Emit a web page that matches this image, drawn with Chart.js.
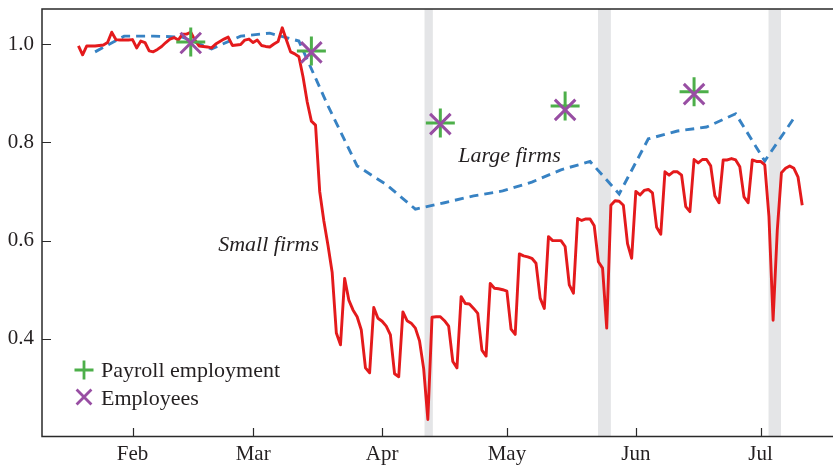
<!DOCTYPE html>
<html>
<head>
<meta charset="utf-8">
<script src="https://cdn.jsdelivr.net/npm/chart.js@4"></script>
<style>
  html, body { margin: 0; padding: 0; background: #ffffff; }
  canvas { display: block; }
</style>
</head>
<body>
<canvas id="chart" width="833" height="465"></canvas>
<script>
// Day numbers count from 1 Jan 2020 (day 0).
const monthTickDays = [31, 60, 91, 121, 152, 182];
const monthTickLabels = ['Feb', 'Mar', 'Apr', 'May', 'Jun', 'Jul'];
const valueTicks = [0.4, 0.6, 0.8, 1.0];

// Small firms: daily index, first value on day 18 (19 Jan).
const smallFirmsFirstDay = 18;
const smallFirms = [
  0.996, 0.978, 0.996, 0.996, 0.996, 0.997, 0.998,
  1.003, 1.024, 1.009, 1.008, 1.008, 1.008, 1.009,
  0.992, 1.006, 1.003, 0.986, 0.984, 0.989, 0.995,
  1.003, 1.010, 1.013, 1.008, 1.020, 1.020, 1.024,
  1.008, 0.996, 0.995, 0.994, 0.992, 1.000, 1.005,
  1.010, 1.014, 0.997, 0.998, 0.999, 1.008, 1.010,
  1.003, 1.008, 0.997, 0.995, 0.994, 1.000, 1.005,
  1.033, 1.008, 0.984, 0.980, 0.974, 0.933, 0.882,
  0.843, 0.835, 0.700, 0.640, 0.590, 0.535, 0.412,
  0.388, 0.523, 0.479, 0.459, 0.445, 0.418, 0.341,
  0.331, 0.464, 0.442, 0.436, 0.426, 0.408, 0.329,
  0.323, 0.455, 0.437, 0.432, 0.422, 0.396, 0.339,
  0.236, 0.444, 0.445, 0.445, 0.437, 0.426, 0.354,
  0.341, 0.486, 0.472, 0.471, 0.462, 0.452, 0.377,
  0.365, 0.513, 0.503, 0.502, 0.500, 0.497, 0.420,
  0.409, 0.573, 0.569, 0.567, 0.564, 0.554, 0.483,
  0.462, 0.608, 0.600, 0.600, 0.600, 0.588, 0.510,
  0.493, 0.645, 0.641, 0.644, 0.644, 0.630, 0.557,
  0.544, 0.422, 0.672, 0.681, 0.680, 0.672, 0.594,
  0.564, 0.700, 0.693, 0.702, 0.704, 0.697, 0.627,
  0.613, 0.740, 0.733, 0.740, 0.740, 0.733, 0.669,
  0.659, 0.765, 0.758, 0.765, 0.765, 0.752, 0.691,
  0.677, 0.764, 0.764, 0.767, 0.764, 0.750, 0.689,
  0.677, 0.764, 0.761, 0.761, 0.754, 0.649, 0.438,
  0.620, 0.738, 0.747, 0.752, 0.747, 0.729, 0.672
];

// Large firms: weekly readings.
const largeFirmsDays = [22, 29, 36, 43, 50, 57, 64, 71, 78, 85, 92, 99, 106,
  113, 120, 127, 134, 141, 148, 155, 162, 169, 176, 183, 190];
const largeFirms = [0.984, 1.016, 1.016, 1.014, 0.990, 1.016, 1.022, 1.006,
  0.874, 0.752, 0.714, 0.664, 0.677, 0.691, 0.701, 0.719, 0.744, 0.761,
  0.695, 0.807, 0.823, 0.831, 0.858, 0.762, 0.849];

// Monthly survey benchmarks (15th of each month).
const surveyDays = [45, 74, 105, 135, 166];
const payrollEmployment = [1.004, 0.986, 0.839, 0.874, 0.903];
const employees = [1.002, 0.983, 0.837, 0.866, 0.898];

// Holiday periods shaded in grey.
const holidayStarts = [101.2, 142.9, 183.9];
const holidayEnds = [103.2, 146.0, 186.9];

const RED = '#e41a1c';
const BLUE = '#3782c3';
const GREEN = '#4daf4a';
const PURPLE = '#984ea3';
const INK = '#231f20';
const SERIF = '"Liberation Serif", "Times New Roman", serif';

const smallPoints = smallFirms.map((v, i) => ({ x: smallFirmsFirstDay + i, y: v }));
const largePoints = largeFirmsDays.map((d, i) => ({ x: d, y: largeFirms[i] }));
const payrollPoints = surveyDays.map((d, i) => ({ x: d, y: payrollEmployment[i] }));
const employeePoints = surveyDays.map((d, i) => ({ x: d, y: employees[i] }));

function strokeMarker(ctx, style, x, y, r, color, width) {
  ctx.save();
  ctx.strokeStyle = color;
  ctx.lineWidth = width;
  ctx.lineCap = 'butt';
  ctx.beginPath();
  if (style === 'cross') {
    ctx.moveTo(x - r, y); ctx.lineTo(x + r, y);
    ctx.moveTo(x, y - r); ctx.lineTo(x, y + r);
  } else {
    const dx = r * Math.SQRT1_2;
    ctx.moveTo(x - dx, y - dx); ctx.lineTo(x + dx, y + dx);
    ctx.moveTo(x - dx, y + dx); ctx.lineTo(x + dx, y - dx);
  }
  ctx.stroke();
  ctx.restore();
}

// Axis ends carry no tick labels, so no extra room is reserved for them.
function noEdgePadding(scale) {
  scale.paddingLeft = 0;
  scale.paddingRight = 0;
  scale.paddingTop = 0;
  scale.paddingBottom = 0;
}

const holidayBands = {
  id: 'holidayBands',
  beforeDatasetsDraw(chart) {
    const { ctx, chartArea: a, scales: { x } } = chart;
    ctx.save();
    ctx.fillStyle = '#e4e5e7';
    holidayStarts.forEach((s, i) => {
      const x0 = x.getPixelForValue(s);
      const x1 = x.getPixelForValue(holidayEnds[i]);
      ctx.fillRect(x0, a.top, x1 - x0, a.bottom - a.top);
    });
    ctx.restore();
  }
};

const frameAndTicks = {
  id: 'frameAndTicks',
  afterDatasetsDraw(chart) {
    const { ctx, chartArea: a, scales: { x, y } } = chart;
    ctx.save();
    ctx.strokeStyle = '#2a2a2a';
    ctx.lineWidth = 1.5;
    ctx.beginPath();
    ctx.moveTo(a.right + 2, a.top); ctx.lineTo(a.left, a.top);
    ctx.lineTo(a.left, a.bottom); ctx.lineTo(a.right + 2, a.bottom);
    ctx.stroke();
    ctx.lineWidth = 1.2;
    ctx.beginPath();
    valueTicks.forEach(v => {
      const py = Math.round(y.getPixelForValue(v)) + 0.5;
      ctx.moveTo(a.left, py); ctx.lineTo(a.left + 9, py);
    });
    monthTickDays.forEach(d => {
      const px = Math.round(x.getPixelForValue(d)) + 0.5;
      ctx.moveTo(px, a.bottom); ctx.lineTo(px, a.bottom - 8.5);
    });
    ctx.stroke();
    ctx.restore();
  }
};

const labelsAndKey = {
  id: 'labelsAndKey',
  afterDraw(chart) {
    const { ctx, chartArea: a, scales: { x, y } } = chart;
    ctx.save();
    ctx.fillStyle = INK;
    ctx.textBaseline = 'alphabetic';
    ctx.textAlign = 'left';
    ctx.font = 'italic 22px ' + SERIF;
    ctx.fillText('Small firms', x.getPixelForValue(51.6), y.getPixelForValue(0.579));
    ctx.fillText('Large firms', x.getPixelForValue(109.3), y.getPixelForValue(0.76));

    ctx.font = '22px ' + SERIF;
    strokeMarker(ctx, 'cross', a.left + 42, a.bottom - 66.5, 9.5, GREEN, 2.8);
    ctx.fillText('Payroll employment', a.left + 59, a.bottom - 59.2);
    strokeMarker(ctx, 'crossRot', a.left + 42, a.bottom - 39.5, 10.5, PURPLE, 2.8);
    ctx.fillText('Employees', a.left + 59, a.bottom - 31.5);
    ctx.restore();
  }
};

new Chart(document.getElementById('chart'), {
  type: 'line',
  data: {
    datasets: [
      {
        label: 'Employees',
        data: employeePoints,
        showLine: false,
        pointStyle: 'crossRot',
        pointRadius: 14.5,
        pointBorderWidth: 3,
        borderColor: PURPLE,
        backgroundColor: PURPLE
      },
      {
        label: 'Payroll employment',
        data: payrollPoints,
        showLine: false,
        pointStyle: 'cross',
        pointRadius: 14.5,
        pointBorderWidth: 3,
        borderColor: GREEN,
        backgroundColor: GREEN
      },
      {
        label: 'Small firms',
        data: smallPoints,
        borderColor: RED,
        borderWidth: 2.9,
        pointRadius: 0,
        tension: 0,
        borderJoinStyle: 'round',
        fill: false
      },
      {
        label: 'Large firms',
        data: largePoints,
        borderColor: BLUE,
        borderWidth: 2.9,
        borderDash: [9, 6],
        pointRadius: 0,
        tension: 0,
        fill: false
      }
    ]
  },
  options: {
    responsive: false,
    animation: false,
    devicePixelRatio: 1,
    layout: { autoPadding: false, padding: { top: 9, right: 0, bottom: 0, left: 0 } },
    plugins: {
      legend: { display: false },
      tooltip: { enabled: false },
      title: { display: false }
    },
    scales: {
      x: {
        type: 'linear',
        min: 9.24,
        max: 199.4,
        grid: { display: false, drawTicks: false },
        border: { display: false },
        afterFit(scale) { scale.height = 28.5; noEdgePadding(scale); },
        afterBuildTicks(scale) { scale.ticks = monthTickDays.map(v => ({ value: v })); },
        ticks: {
          padding: 5,
          autoSkip: false,
          maxRotation: 0,
          color: INK,
          font: { family: SERIF, size: 21 },
          callback(value) {
            const i = monthTickDays.indexOf(value);
            return i >= 0 ? monthTickLabels[i] : '';
          }
        }
      },
      y: {
        type: 'linear',
        min: 0.2014,
        max: 1.0712,
        grid: { display: false, drawTicks: false },
        border: { display: false },
        afterFit(scale) { scale.width = 42; noEdgePadding(scale); },
        afterBuildTicks(scale) { scale.ticks = valueTicks.map(v => ({ value: v })); },
        ticks: {
          padding: 8,
          color: INK,
          font: { family: SERIF, size: 21 },
          callback(value) { return Number(value).toFixed(1); }
        }
      }
    }
  },
  plugins: [holidayBands, frameAndTicks, labelsAndKey]
});
</script>
</body>
</html>
